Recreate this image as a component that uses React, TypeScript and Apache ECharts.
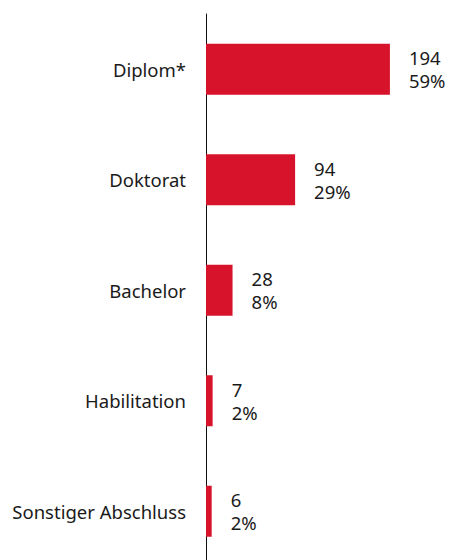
import React, { useEffect, useRef } from "react";
import * as echarts from "echarts";

const categories = ["Diplom*", "Doktorat", "Bachelor", "Habilitation", "Sonstiger Abschluss"];
const counts = [194, 94, 28, 7, 6];
const shares = ["59%", "29%", "8%", "2%", "2%"];

export default function App() {
  const ref = useRef<HTMLDivElement>(null);
  useEffect(() => {
    document.body.style.margin = "0";
    const chart = echarts.init(ref.current!, null, { renderer: "svg" });
    chart.setOption({
      animation: false,
      grid: { left: 206, top: 14, width: 237, height: 552.5 },
      xAxis: { type: "value", min: 0, max: 250, show: false },
      yAxis: {
        type: "category",
        inverse: true,
        data: categories,
        axisLine: { show: true, lineStyle: { color: "#111", width: 1 } },
        axisTick: { show: false },
        axisLabel: {
          margin: 20,
          fontFamily: "Noto Sans",
          fontSize: 18.5,
          color: "#1a1a1a",
        },
      },
      series: [
        {
          type: "bar",
          data: counts,
          barWidth: 51,
          itemStyle: { color: "#D7132B" },
          label: {
            show: true,
            position: "right",
            distance: 19,
            fontFamily: "Noto Sans",
            fontSize: 18.5,
            lineHeight: 23,
            color: "#1a1a1a",
            formatter: (p: any) => `${counts[p.dataIndex]}\n${shares[p.dataIndex]}`,
          },
        },
      ],
    });
    return () => chart.dispose();
  }, []);
  return (
    <div style={{ width: 452, height: 560, overflow: "hidden" }}>
      <div ref={ref} style={{ width: 452, height: 580 }} />
    </div>
  );
}
